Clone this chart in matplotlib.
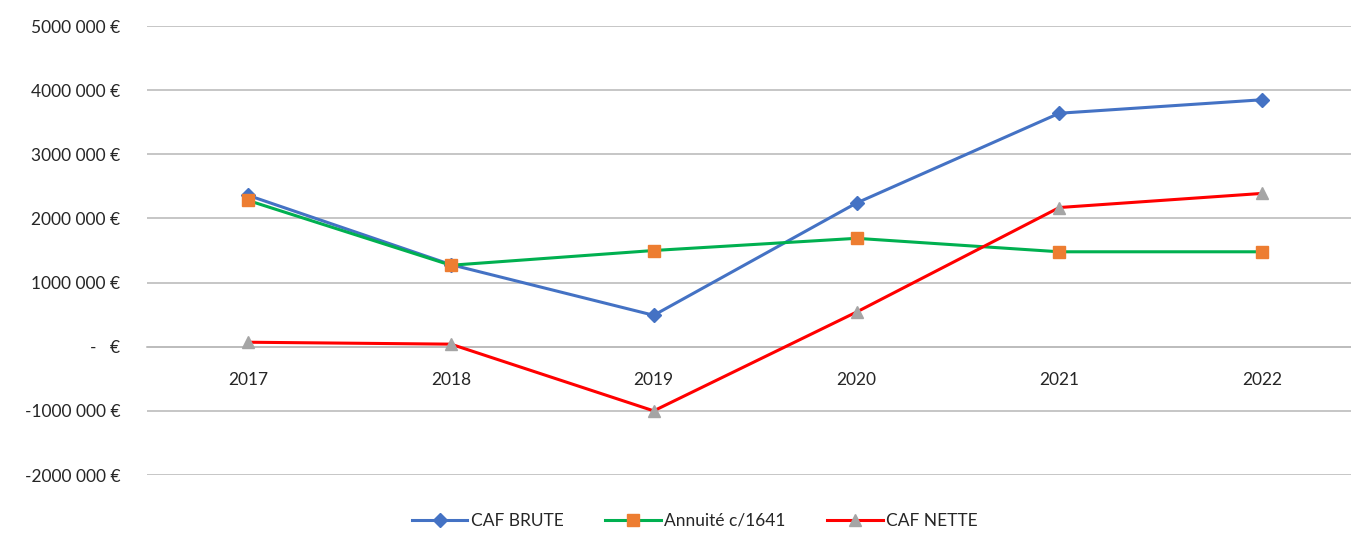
import matplotlib.pyplot as plt
from matplotlib.ticker import FixedLocator

plt.rcParams['font.family'] = ['Lato', 'DejaVu Sans']

years = ["2017", "2018", "2019", "2020", "2021", "2022"]
caf_brute = [2360000, 1280000, 490000, 2240000, 3640000, 3850000]
annuite = [2280000, 1270000, 1500000, 1690000, 1480000, 1480000]
caf_nette = [70000, 40000, -1000000, 540000, 2170000, 2390000]

y_ticks = [-2000000, -1000000, 0, 1000000, 2000000, 3000000, 4000000, 5000000]
y_labels = ["-2000 000 €", "-1000 000 €", "-   €", "1000 000 €", "2000 000 €",
            "3000 000 €", "4000 000 €", "5000 000 €"]

fig = plt.figure(figsize=(13.51, 5.33), dpi=100)
ax = fig.add_axes([146.7 / 1351, 58 / 533, 1 - 146.7 / 1351, 449 / 533])

x = list(range(len(years)))
ax.plot(x, caf_brute, color="#4472C4", linewidth=2.2, marker="D", markersize=7,
        label="CAF BRUTE", zorder=3)
ax.plot(x, annuite, color="#00B050", linewidth=2.2, marker="s", markersize=9,
        markerfacecolor="#ED7D31", markeredgecolor="#ED7D31", label="Annuité c/1641", zorder=3)
ax.plot(x, caf_nette, color="#FF0000", linewidth=2.2, marker="^", markersize=9,
        markerfacecolor="#A5A5A5", markeredgecolor="#A5A5A5", label="CAF NETTE", zorder=3)

ax.set_xlim(-0.5, -0.5 + 1204.3 / 202.8)
ax.set_ylim(-2000000, 5000000)
ax.yaxis.set_major_locator(FixedLocator(y_ticks))
ax.set_yticklabels(y_labels)
ax.set_xticks(x)
ax.set_xticklabels(years)
ax.grid(axis="y", color="#BCBCBC", linewidth=1.2)
ax.set_axisbelow(True)

for side in ["top", "right", "left"]:
    ax.spines[side].set_visible(False)
ax.spines["bottom"].set_position(("data", 0))
ax.spines["bottom"].set_color("#BCBCBC")
ax.spines["bottom"].set_linewidth(1.2)

ax.tick_params(axis="y", length=0, pad=19, labelsize=12.5, labelcolor="#262626")
ax.tick_params(axis="x", length=0, pad=18, labelsize=12.5, labelcolor="#262626")

fig.legend(loc="center", bbox_to_anchor=(695 / 1351, 1 - 521 / 533), ncol=3,
           frameon=False, fontsize=12.5, handlelength=3.2, columnspacing=2.4,
           handletextpad=0.2, labelcolor="#262626")

plt.savefig("out.png", dpi=100)
